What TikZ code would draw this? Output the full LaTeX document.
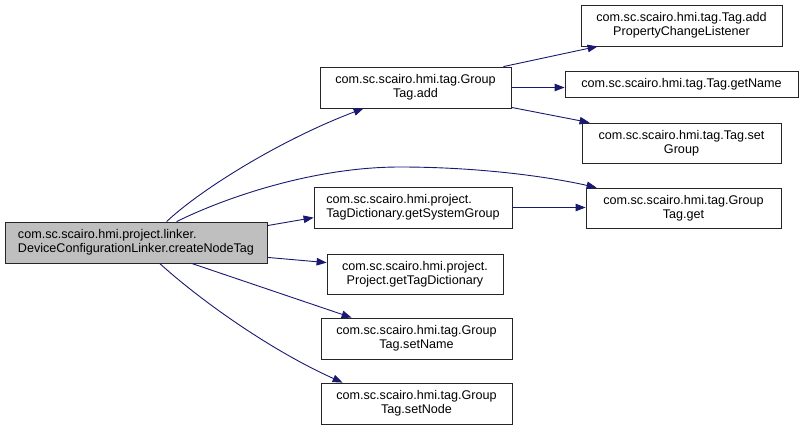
\documentclass[tikz,border=0pt]{standalone}
\usepackage{fontspec}
\setmainfont{Liberation Sans}
\usetikzlibrary{arrows.meta}
\definecolor{edgeblue}{HTML}{191970}
\definecolor{maingray}{HTML}{BFBFBF}
\begin{document}
\begin{tikzpicture}[x=1pt,y=-1pt,
  box/.style={draw=black!85, line width=0.8pt, fill=white, inner sep=0pt,
    font=\fontsize{12.6}{14}\selectfont, align=center},
  edge/.style={draw=edgeblue, line width=0.9pt, -{Triangle[length=10pt,width=7.5pt]}}]
\useasboundingbox[fill=white] (0,0) rectangle (803,431);
\node[box, fill=maingray, align=left, minimum width=262pt, minimum height=41pt] (main) at (136,242.5)
  {com.sc.scairo.hmi.project.linker.\\DeviceConfigurationLinker.createNodeTag};
\node[box, minimum width=191pt, minimum height=41pt] (add) at (415.5,87.5)
  {com.sc.scairo.hmi.tag.Group\\Tag.add};
\node[box, minimum width=201pt, minimum height=41pt] (apcl) at (681.5,25.5)
  {com.sc.scairo.hmi.tag.Tag.add\\PropertyChangeListener};
\node[box, minimum width=233pt, minimum height=26pt] (getname) at (681.5,84)
  {com.sc.scairo.hmi.tag.Tag.getName};
\node[box, minimum width=199pt, minimum height=40pt] (setgroup) at (681.5,143)
  {com.sc.scairo.hmi.tag.Tag.set\\Group};
\node[box, minimum width=195pt, minimum height=40pt] (get) at (683.5,208)
  {com.sc.scairo.hmi.tag.Group\\Tag.get};
\node[box, align=left, minimum width=198pt, minimum height=41pt] (gsg) at (413,207.5)
  {com.sc.scairo.hmi.project.\\TagDictionary.getSystemGroup};
\node[box, minimum width=176pt, minimum height=40pt] (gtd) at (415,274)
  {com.sc.scairo.hmi.project.\\Project.getTagDictionary};
\node[box, minimum width=191pt, minimum height=41pt] (setname) at (416.5,338.5)
  {com.sc.scairo.hmi.tag.Group\\Tag.setName};
\node[box, minimum width=191pt, minimum height=41pt] (setnode) at (416.5,403.5)
  {com.sc.scairo.hmi.tag.Group\\Tag.setNode};

\draw[edge] ([xshift=162pt]main.north west) .. controls (200,190) and (280,140) .. ([xshift=44pt]add.south west);
\draw[edge] ([xshift=172pt]main.north west) .. controls (220,200) and (310,167) .. (400,167)
  .. controls (480,167) and (550,177) .. ([xshift=11pt]get.north west);
\draw[edge] ([yshift=-4pt]main.north east) -- ([yshift=-31pt]gsg.north west);
\draw[edge] ([yshift=6pt]main.south east) -- ([yshift=-9pt]gtd.north west);
\draw[edge] ([xshift=187pt]main.south west) -- ([xshift=31pt]setname.north west);
\draw[edge] ([xshift=155pt]main.south west) .. controls (200,300) and (270,350) .. ([xshift=22pt]setnode.north west);
\draw[edge] ([xshift=-8pt]add.north east) -- ([xshift=17pt]apcl.south west);
\draw[edge] (add.east) -- (add.east -| getname.west);
\draw[edge] ([yshift=1pt]add.south east) -- ([xshift=8pt]setgroup.north west);
\draw[edge] (gsg.east) -- (gsg.east -| get.west);
\end{tikzpicture}
\end{document}
